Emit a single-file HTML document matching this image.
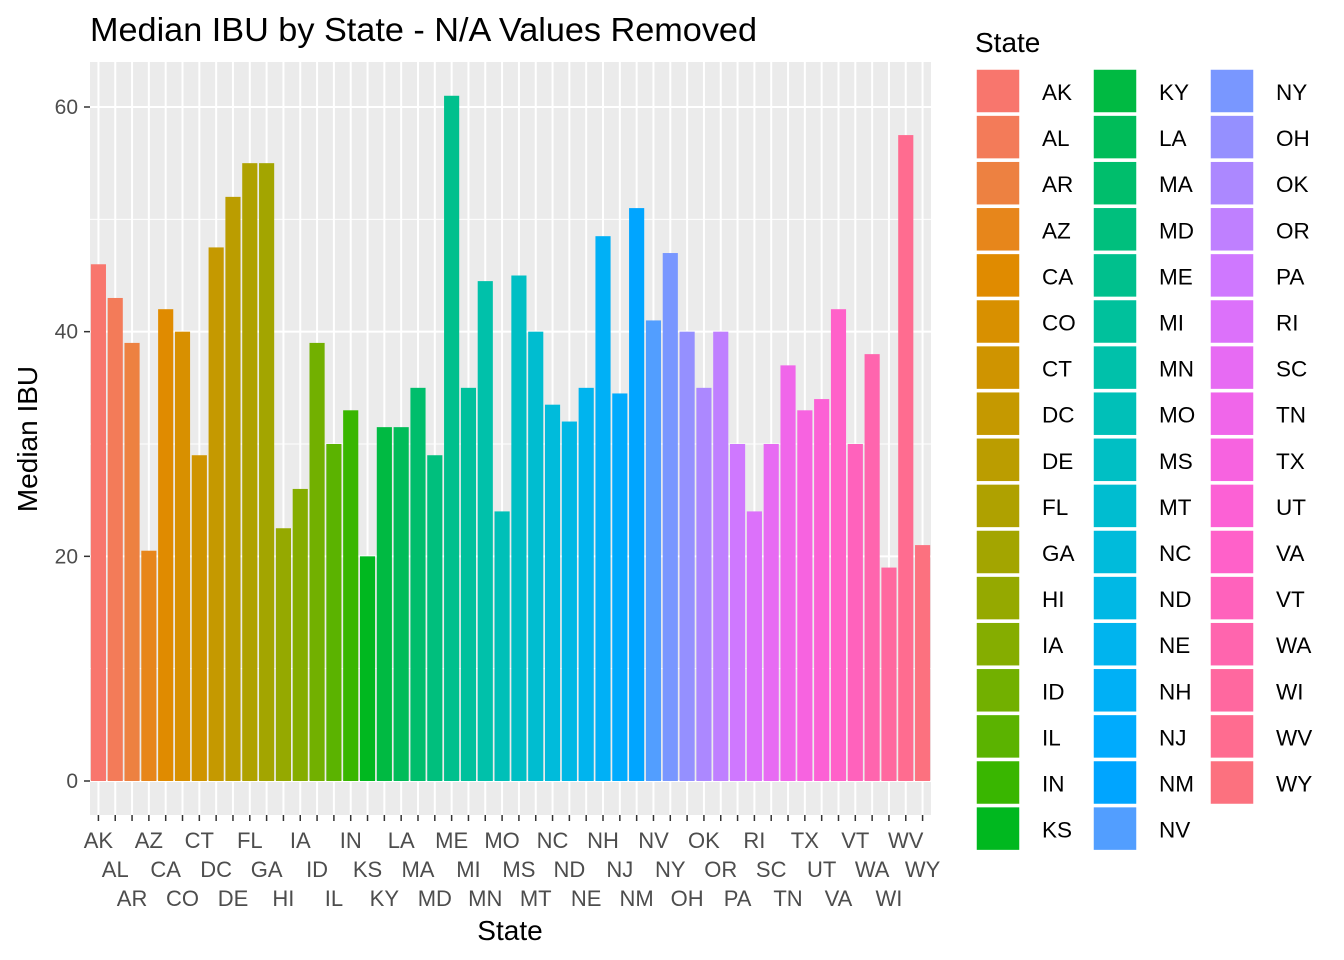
<!DOCTYPE html>
<html><head><meta charset="utf-8"><style>
body{margin:0;background:#fff;}
svg{display:block;font-family:"Liberation Sans",Arial,sans-serif;}
</style></head><body>
<svg id="chart" width="1344" height="960" xmlns="http://www.w3.org/2000/svg">
<text x="90" y="41" font-size="33" textLength="667" lengthAdjust="spacingAndGlyphs" fill="#000">Median IBU by State - N/A Values Removed</text>
<rect x="90" y="62" width="841" height="753" fill="#ebebeb"/>
<g id="grid"></g><g id="bars"></g><g id="axes"></g><g id="legend"></g>
<text x="510" y="940" font-size="28" text-anchor="middle">State</text>
<text transform="translate(37,439) rotate(-90)" font-size="28" text-anchor="middle">Median IBU</text>
<text x="975" y="52" font-size="28">State</text>
</svg>
<script>
const states=["AK","AL","AR","AZ","CA","CO","CT","DC","DE","FL","GA","HI","IA","ID","IL","IN","KS","KY","LA","MA","MD","ME","MI","MN","MO","MS","MT","NC","ND","NE","NH","NJ","NM","NV","NY","OH","OK","OR","PA","RI","SC","TN","TX","UT","VA","VT","WA","WI","WV","WY"];
const medianIBU=[46,43,39,20.5,42,40,29,47.5,52,55,55,22.5,26,39,30,33,20,31.5,31.5,35,29,61,35,44.5,24,45,40,33.5,32,35,48.5,34.5,51,41,47,40,35,40,30,24,30,37,33,34,42,30,38,19,57.5,21];
const yTicks=[0,20,40,60];
const yMinor=[10,30,50];
const NS="http://www.w3.org/2000/svg";
const px0=90,pw=841,py0=62,ph=753;
const slot=pw/states.length;
const xPos=i=>px0+slot*(i+0.5);
const yPos=v=>781-v*(674/60);
function mk(t,a,p){const e=document.createElementNS(NS,t);for(const k in a)e.setAttribute(k,a[k]);p.appendChild(e);return e;}
function hcl(h,c,l){h=h*Math.PI/180;const u=c*Math.cos(h),v=c*Math.sin(h);
const Xn=95.047,Yn=100,Zn=108.883,d=Xn+15*Yn+3*Zn,un=4*Xn/d,vn=9*Yn/d;
const Y=Yn*Math.pow((l+16)/116,3),up=u/(13*l)+un,vp=v/(13*l)+vn;
const X=9*Y*up/(4*vp),Z=Y*(12-3*up-20*vp)/(4*vp);
const x=X/100,y=Y/100,z=Z/100;
let r=3.2406*x-1.5372*y-0.4986*z,g=-0.9689*x+1.8758*y+0.0415*z,b=0.0557*x-0.2040*y+1.0570*z;
const gm=c=>{c=c<=0.0031308?12.92*c:1.055*Math.pow(c,1/2.4)-0.055;return Math.round(255*Math.max(0,Math.min(1,c)));};
return `rgb(${gm(r)},${gm(g)},${gm(b)})`;}
const cols=states.map((s,i)=>hcl(15+360*i/states.length,100,65));
const grid=document.getElementById('grid');
yMinor.forEach(v=>{const l=mk('line',{x1:px0,x2:px0+pw,y1:yPos(v),y2:yPos(v),stroke:'#fff','stroke-width':1},grid);});
yTicks.forEach(v=>{const l=mk('line',{x1:px0,x2:px0+pw,y1:yPos(v),y2:yPos(v),stroke:'#fff','stroke-width':2},grid);});
states.forEach((s,i)=>{const l=mk('line',{x1:xPos(i),x2:xPos(i),y1:py0,y2:py0+ph,stroke:'#fff','stroke-width':2},grid);});
const bars=document.getElementById('bars');
const bw=slot*0.9;
states.forEach((s,i)=>{const v=medianIBU[i];const r=mk('rect',{x:xPos(i)-bw/2,y:yPos(v),width:bw,height:yPos(0)-yPos(v),fill:cols[i]},bars);

});
const axes=document.getElementById('axes');
yTicks.forEach(v=>{mk('line',{x1:84,x2:90,y1:yPos(v),y2:yPos(v),stroke:'#333','stroke-width':1.5},axes);
const t=mk('text',{x:78,y:yPos(v)+7,'font-size':21,fill:'#4d4d4d','text-anchor':'end'},axes);t.textContent=v;

});
states.forEach((s,i)=>{mk('line',{x1:xPos(i),x2:xPos(i),y1:815,y2:821,stroke:'#333','stroke-width':1.5},axes);
const t=mk('text',{x:xPos(i),y:848+29*(i%3),'font-size':22,fill:'#4d4d4d','text-anchor':'middle'},axes);t.textContent=s;

});
const leg=document.getElementById('legend');
states.forEach((s,i)=>{const c=Math.floor(i/17),r=i%17;const x=976+c*117,y=69+r*46.1;
const g=mk('g',{},leg);


mk('rect',{x:x,y:y,width:44,height:44,fill:cols[i],stroke:'#fff','stroke-width':1.5},g);
const t=mk('text',{x:x+66,y:y+31,'font-size':22.5,fill:'#000'},g);t.textContent=s;});
</script>
</body></html>
